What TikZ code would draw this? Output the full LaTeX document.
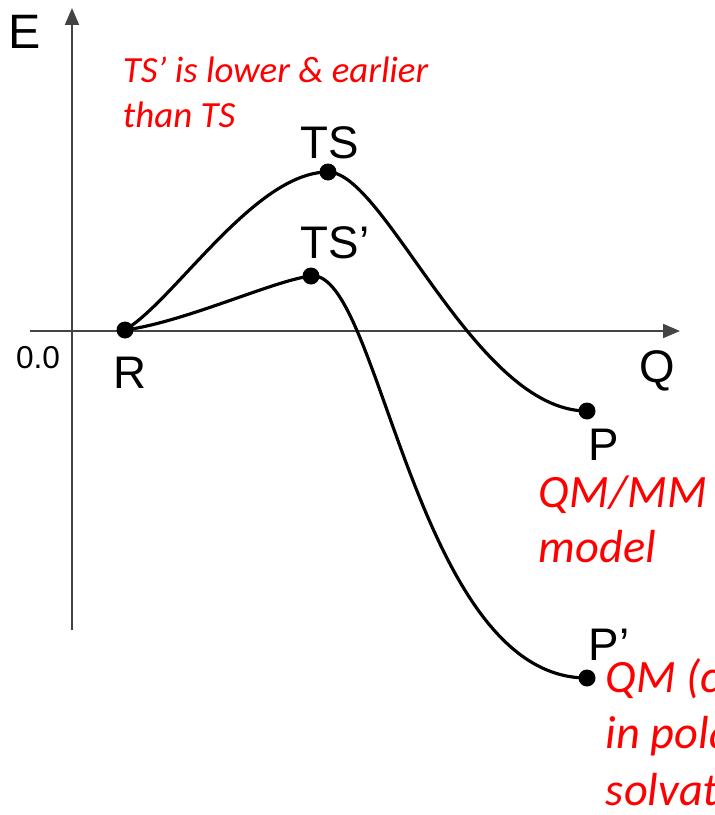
\documentclass[tikz,border=0pt]{standalone}
\usepackage{fontspec}
\setmainfont{Liberation Sans}
\newfontfamily\notefont{Carlito}
\usetikzlibrary{arrows.meta}
\definecolor{caxis}{HTML}{444444}
\definecolor{cred}{HTML}{FF0000}
\tikzset{
  every picture/.style={line width=1.1pt},
  axis/.style={draw=caxis, line width=1.1pt, -{Triangle[length=3.4mm, width=2.8mm]}},
  curve/.style={draw=black, line width=1.8pt},
  dot/.style={circle, fill=black, inner sep=0pt, minimum size=3.4mm},
  lbl/.style={inner sep=0pt, font=\fontsize{26}{30}\selectfont},
  note/.style={inner sep=0pt, text=cred, align=left, anchor=base west},
}

\begin{document}
\begin{tikzpicture}[x=0.02cm, y=-0.02cm]
  \useasboundingbox (0,0) rectangle (715,815);
  \clip (0,0) rectangle (715,815);
  % axes
  \coordinate (ybot) at (72,630);
  \coordinate (ytop) at (72,8);
  \coordinate (xleft) at (30,331);
  \coordinate (xright) at (680,331);
  \draw[axis] (ybot) -- (ytop);
  \draw[axis] (xleft) -- (xright);
  \node[lbl, anchor=base, font=\fontsize{27.5}{30}\selectfont] (e) at (25,48) {E};
  \node[lbl, anchor=base west] (q) at (639,382) {Q};
  \node[lbl, anchor=base, font=\fontsize{18}{20}\selectfont] (zero) at (38,368) {0.0};
  % stationary points
  \node[dot] (r) at (125,330) {};
  \node[dot] (ts) at (328,172) {};
  \node[dot] (tsp) at (311,276) {};
  \node[dot] (p) at (587,411) {};
  \node[dot] (pp) at (587,678) {};
  \node[lbl, anchor=base] (rl) at (130,388) {R};
  \node[lbl, anchor=base west] (tsl) at (300,158) {TS};
  \node[lbl, anchor=base west] (tspl) at (300,258) {TS’};
  \node[lbl, anchor=base west] (pl) at (588,460) {P};
  \node[lbl, anchor=base west] (ppl) at (588,660) {P’};
  % energy profiles
  \draw[curve] (r.center) .. controls (175,300) and (255,172) .. (ts.center)
    .. controls (385,172) and (475,411) .. (p.center);
  \draw[curve] (r.center) .. controls (185,322) and (275,280) .. (tsp.center)
    .. controls (380,268) and (415,678) .. (pp.center);
  % notes (anchored on the last line)
  \node[note, font=\notefont\itshape\fontsize{21}{25.6}\selectfont] (n1) at (122,127) {TS’ is lower \& earlier\\than TS};
  \node[note, font=\notefont\itshape\fontsize{26.4}{31.3}\selectfont] (n2) at (538,562) {QM/MM\\model};
  \node[note, font=\notefont\itshape\fontsize{26.4}{31.9}\selectfont] (n3) at (605,805) {QM (calc.)\\in polar\\solvation};
\end{tikzpicture}
\end{document}
